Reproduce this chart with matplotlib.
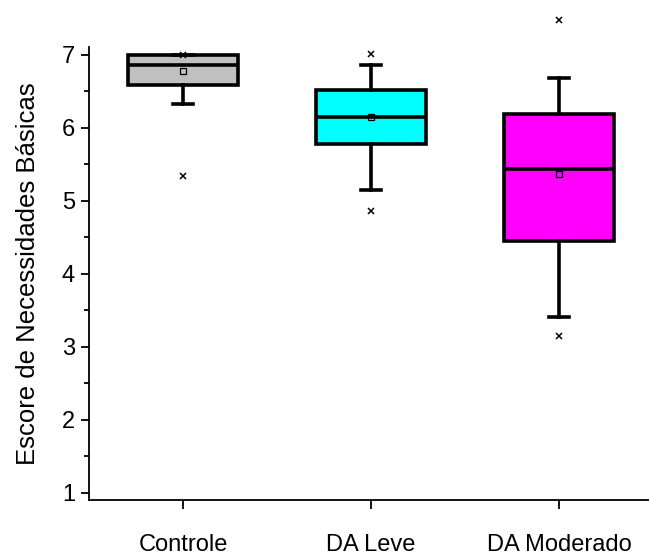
import matplotlib
matplotlib.use("Agg")
import matplotlib.pyplot as plt
from matplotlib.ticker import MultipleLocator

plt.rcParams['font.family'] = ['Liberation Sans', 'DejaVu Sans']

# group summary values
groups = ["Controle", "DA Leve", "DA Moderado"]
q1 = [6.59, 5.77, 4.45]
median = [6.86, 6.15, 5.44]
q3 = [6.99, 6.52, 6.19]
whis_lo = [6.33, 5.14, 3.40]
whis_hi = [7.00, 6.86, 6.68]
means = [6.77, 6.14, 5.36]
fliers = [[5.34, 7.00], [4.86, 7.01], [3.15, 7.47]]
colors = ["#C0C0C0", "#00FFFF", "#FF00FF"]

stats = []
for i, g in enumerate(groups):
    stats.append(dict(label=g, q1=q1[i], med=median[i], q3=q3[i],
                      whislo=whis_lo[i], whishi=whis_hi[i],
                      mean=means[i], fliers=fliers[i]))

fig = plt.figure(figsize=(6.49, 5.56), dpi=100)
ax = fig.add_axes([89/649, 56/556, 564/649, 452.6/556])

lw = 2.6
bp = ax.bxp(stats, positions=[1, 2, 3], widths=0.59, patch_artist=True,
            showmeans=True, showfliers=True,
            boxprops=dict(linewidth=lw, edgecolor="black"),
            medianprops=dict(color="black", linewidth=lw),
            whiskerprops=dict(color="black", linewidth=lw),
            capprops=dict(color="black", linewidth=lw),
            capwidths=0.11,
            meanprops=dict(marker="s", markerfacecolor="none", markeredgecolor="black",
                           markersize=4.5, markeredgewidth=0.9),
            flierprops=dict(marker="x", markeredgecolor="black", markersize=4.5,
                            markeredgewidth=1.1))
for patch, c in zip(bp["boxes"], colors):
    patch.set_facecolor(c)
for f in bp["fliers"]:
    f.set_clip_on(False)

ax.set_xlim(0.5, 3.5)
ax.set_ylim(0.9, 7.1)
ax.yaxis.set_major_locator(MultipleLocator(1))
ax.yaxis.set_minor_locator(MultipleLocator(0.5))

for s in ["top", "right"]:
    ax.spines[s].set_visible(False)
ax.spines["left"].set_linewidth(1.3)
ax.spines["bottom"].set_linewidth(1.3)

ax.tick_params(axis="y", which="major", length=6, width=1.3, pad=4, labelsize=17)
ax.tick_params(axis="y", which="minor", length=3.5, width=1.3)
ax.tick_params(axis="x", which="major", length=6.5, width=1.3, pad=18, labelsize=17)

ax.set_ylabel("Escore de Necessidades Básicas", fontsize=18.5, labelpad=16)

fig.savefig("out.png", dpi=100)
